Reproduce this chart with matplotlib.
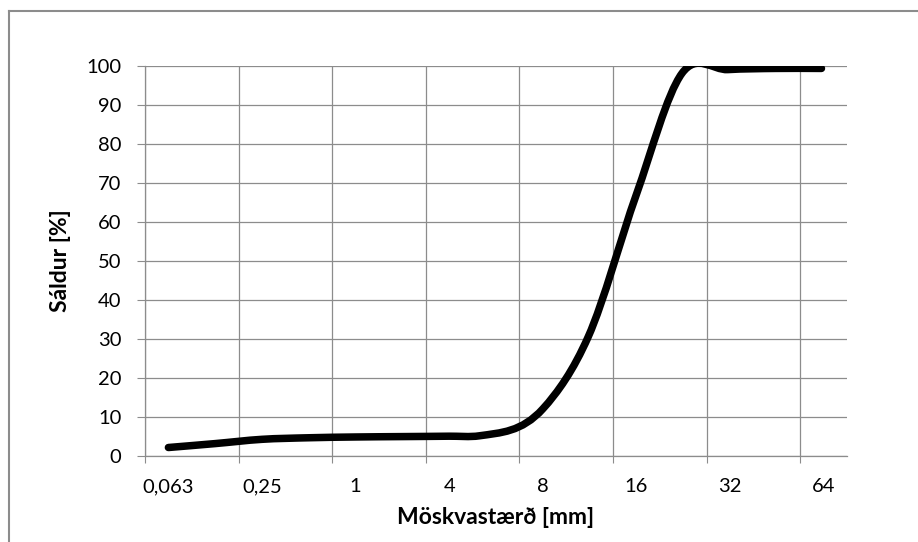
import numpy as np
import matplotlib
matplotlib.use("Agg")
import matplotlib.pyplot as plt
from matplotlib.path import Path
from matplotlib.patches import PathPatch
from matplotlib.lines import Line2D

# sieve sizes shown on the axis (mm) and their labels
label_sizes = [0.063, 0.25, 1, 4, 8, 16, 32, 64]
tick_labels = ["0,063", "0,25", "1", "4", "8", "16", "32", "64"]

# measured grading curve: sieve size (mm) -> passing (%)
sieve_mm = [0.063, 0.125, 0.25, 0.5, 1, 2, 4, 5, 8, 11.2, 16, 22.4, 31.5, 45, 63]
passing = [2.1, 3.1, 4.2, 4.6, 4.8, 4.9, 5.0, 5.1, 12.0, 30.5, 67.0, 98.0, 99.0, 99.3, 99.3]

plt.rcParams['font.family'] = ['Lato', 'DejaVu Sans']

# position of each sieve on the category-like axis (log-interpolated between labels)
pos = np.interp(np.log(sieve_mm), np.log(label_sizes), np.arange(len(label_sizes)))
val = np.array(passing, dtype=float)

fig = plt.figure(figsize=(9.18, 5.42), dpi=100)
ax = fig.add_axes([145 / 918, 86.3 / 542, 702 / 918, 390 / 542])

grid_c = '#8c8c8c'

# smoothed line (cubic Hermite, three-point tangents, drawn as Bezier path)
n = len(pos)
h = np.diff(pos)
d = np.diff(val) / h
m = np.zeros(n)
m[0], m[-1] = d[0], d[-1]
for i in range(1, n - 1):
    m[i] = (h[i - 1] * d[i] + h[i] * d[i - 1]) / (h[i - 1] + h[i])
verts = [(pos[0], val[0])]
codes = [Path.MOVETO]
for i in range(n - 1):
    verts += [(pos[i] + h[i] / 3, val[i] + m[i] * h[i] / 3),
              (pos[i + 1] - h[i] / 3, val[i + 1] - m[i + 1] * h[i] / 3),
              (pos[i + 1], val[i + 1])]
    codes += [Path.CURVE4] * 3
curve = PathPatch(Path(verts, codes), facecolor='none', edgecolor='black',
                  linewidth=5.4, capstyle='round', joinstyle='round', zorder=3)
ax.add_patch(curve)

ax.set_xlim(-0.25, 7.25)
ax.set_ylim(0, 100)

# gridlines / tick marks sit a quarter step left of each label
ax.set_xticks(np.arange(len(label_sizes)) - 0.25)
ax.set_xticklabels([])
ax.set_xticks(np.arange(len(label_sizes)), minor=True)
ax.set_xticklabels(tick_labels, minor=True)
ax.set_yticks(np.arange(0, 101, 10))

ax.tick_params(axis='x', which='major', direction='out', length=5, width=0.8, color=grid_c)
ax.tick_params(axis='x', which='minor', length=0, labelsize=14.5, pad=16)
ax.tick_params(axis='y', direction='out', length=6, width=0.8, color=grid_c,
               labelsize=14.5, pad=11)

ax.grid(True, which='major', color=grid_c, linewidth=0.9)
ax.set_axisbelow(True)
for s in ['top', 'right']:
    ax.spines[s].set_visible(False)
for s in ['left', 'bottom']:
    ax.spines[s].set_color(grid_c)
    ax.spines[s].set_linewidth(0.9)

ax.set_xlabel("Möskvastærð [mm]", fontsize=16.5, fontweight='bold', labelpad=9)
ax.set_ylabel("Sáldur [%]", fontsize=16.5, fontweight='bold', labelpad=11)

# outer chart border (top and left visible)
fig.add_artist(Line2D([9 / 918, 9 / 918], [0, 1 - 11 / 542], color='#8c8c8c', linewidth=1.5))
fig.add_artist(Line2D([9 / 918, 1], [1 - 11 / 542, 1 - 11 / 542], color='#8c8c8c', linewidth=1.5))

fig.savefig("out.png", dpi=100)
